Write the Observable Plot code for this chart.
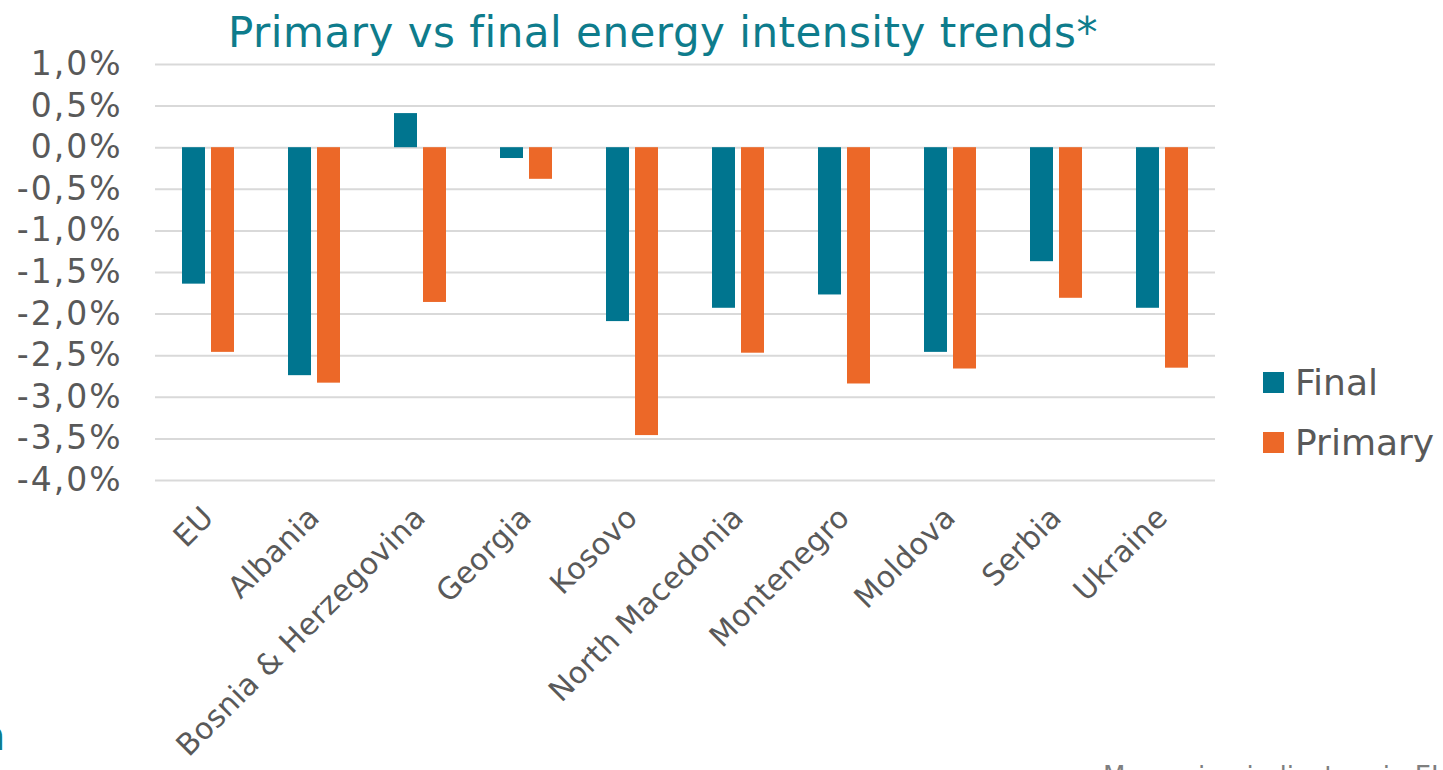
<!DOCTYPE html>
<html>
<head>
<meta charset="utf-8">
<script src="https://cdn.jsdelivr.net/npm/d3@7"></script>
<script src="https://cdn.jsdelivr.net/npm/@observablehq/plot@0.6"></script>
<style>
  html, body { margin: 0; padding: 0; background: #fff; }
  #wrap { position: relative; width: 1443px; height: 770px; overflow: hidden; font-family: "DejaVu Sans", Verdana, sans-serif; }
  #title { position: absolute; left: 0; width: 1326px; top: 12px; text-align: center; font-size: 42px; line-height: 42px; letter-spacing: 0.5px; color: #0E7C8C; white-space: nowrap; }
  #chart { position: absolute; left: 0; top: 56px; }
  #chart svg { overflow: visible; }
  #chart g[aria-label="y-axis tick label"] text { font-size: 33px; letter-spacing: 2px; }
  #chart g[aria-label="fx-axis tick label"] text { font-size: 30px; letter-spacing: 0.3px; }
  #legend { position: absolute; left: 1263px; top: 352px; color: #595959; font-size: 36px; }
  .item { display: flex; align-items: center; height: 60px; }
  .sw { width: 21px; height: 21px; margin-right: 11px; }
  #source { position: absolute; left: 1103px; top: 763px; font-size: 26px; line-height: 26px; color: #7f7f7f; white-space: nowrap; }
  #frag { position: absolute; left: -20px; top: 716px; font-size: 40px; line-height: 40px; color: #0E7C8C; }
</style>
</head>
<body>
<div id="wrap">
  <div id="title">Primary vs final energy intensity trends*</div>
  <div id="chart"></div>
  <div id="legend"></div>
  <div id="source">Measuring indicators in EU</div>
  <div id="frag">n</div>
</div>
<script>
const countries = ["EU", "Albania", "Bosnia & Herzegovina", "Georgia", "Kosovo", "North Macedonia", "Montenegro", "Moldova", "Serbia", "Ukraine"];
const seriesNames = ["Final", "Primary"];
const finalValues = [-1.64, -2.74, 0.41, -0.13, -2.09, -1.93, -1.77, -2.46, -1.37, -1.93];
const primaryValues = [-2.46, -2.83, -1.86, -0.38, -3.46, -2.47, -2.84, -2.66, -1.81, -2.65];
const yTicks = [1, 0.5, 0, -0.5, -1, -1.5, -2, -2.5, -3, -3.5, -4];
const yTickLabels = ["1,0%", "0,5%", "0,0%", "-0,5%", "-1,0%", "-1,5%", "-2,0%", "-2,5%", "-3,0%", "-3,5%", "-4,0%"];

const seriesColors = ["#00758F", "#EC6828"];

const rows = [];
countries.forEach((c, i) => {
  rows.push({country: c, series: "Final", value: finalValues[i]});
  rows.push({country: c, series: "Primary", value: primaryValues[i]});
});

const chart = Plot.plot({
  width: 1443,
  height: 714,
  marginTop: 8,
  marginBottom: 290,
  marginLeft: 153,
  marginRight: 226,
  style: {fontFamily: "DejaVu Sans, Verdana, sans-serif", fontSize: "32px", color: "#595959", background: "transparent", overflow: "visible"},
  fx: {domain: countries, padding: 0, label: null, axis: "bottom", tickRotate: -45, tickSize: 0, tickPadding: 32},
  x: {domain: seriesNames, paddingInner: 0.2, paddingOuter: 0.873, axis: null},
  y: {domain: [-4, 1], ticks: yTicks, tickFormat: d => yTickLabels[yTicks.indexOf(d)], tickSize: 0, tickPadding: 33, label: null},
  color: {domain: seriesNames, range: seriesColors},
  marks: [
    Plot.ruleY(yTicks, {stroke: "#d9d9d9", strokeWidth: 2}),
    Plot.barY(rows, {fx: "country", x: "series", y: "value", fill: "series"})
  ]
});
document.getElementById("chart").appendChild(chart);

const legend = document.getElementById("legend");
seriesNames.forEach((s, i) => {
  const item = document.createElement("div");
  item.className = "item";
  const sw = document.createElement("div");
  sw.className = "sw";
  sw.style.background = seriesColors[i];
  const t = document.createElement("span");
  t.textContent = s;
  item.appendChild(sw);
  item.appendChild(t);
  legend.appendChild(item);
});
</script>
</body>
</html>
